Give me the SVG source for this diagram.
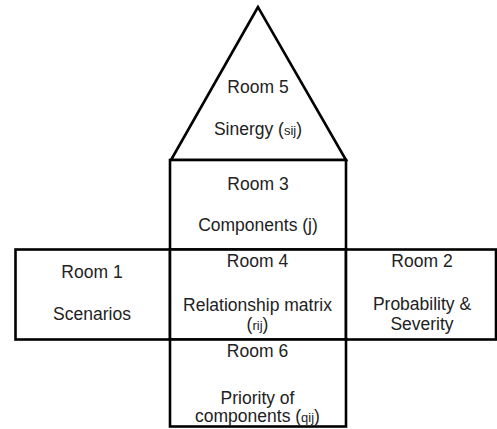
<svg xmlns="http://www.w3.org/2000/svg" width="497" height="429" viewBox="0 0 497 429">
  <style>
    .room { fill: #ffffff; stroke: #000000; stroke-width: 2.6; stroke-linejoin: miter; }
    .t { font-family: "Liberation Sans", Arial, sans-serif; font-size: 17.5px; fill: #222222; text-anchor: middle; }
    .sub { font-size: 13px; }
  </style>
  <rect width="497" height="429" fill="#ffffff"/>
  <g id="nodes">
    <g id="room5">
      <polygon class="room" points="258,7 171,160 346,160"/>
      <text class="t" x="258" y="93">Room 5</text>
      <text class="t" x="258" y="135">Sinergy (<tspan class="sub">sij</tspan>)</text>
    </g>
    <g id="room3">
      <rect class="room" x="170" y="160" width="176" height="89.5"/>
      <text class="t" x="258" y="190">Room 3</text>
      <text class="t" x="258" y="231">Components (j)</text>
    </g>
    <g id="room1">
      <rect class="room" x="15.5" y="249.5" width="154.5" height="90"/>
      <text class="t" x="92" y="278">Room 1</text>
      <text class="t" x="92" y="320">Scenarios</text>
    </g>
    <g id="room4">
      <rect class="room" x="170" y="249.5" width="176" height="90"/>
      <text class="t" x="257.5" y="267">Room 4</text>
      <text class="t" x="257.5" y="311">Relationship matrix</text>
      <text class="t" x="257.5" y="330">(<tspan class="sub">rij</tspan>)</text>
    </g>
    <g id="room2">
      <rect class="room" x="346" y="249.5" width="150" height="90"/>
      <text class="t" x="422" y="267">Room 2</text>
      <text class="t" x="422" y="310">Probability &amp;</text>
      <text class="t" x="422" y="330">Severity</text>
    </g>
    <g id="room6">
      <rect class="room" x="170" y="339.5" width="176" height="87"/>
      <text class="t" x="257.5" y="357">Room 6</text>
      <text class="t" x="257.5" y="403.5">Priority of</text>
      <text class="t" x="257.5" y="421.5">components (<tspan class="sub">qij</tspan>)</text>
    </g>
  </g>
  <g id="connectors"></g>
</svg>
